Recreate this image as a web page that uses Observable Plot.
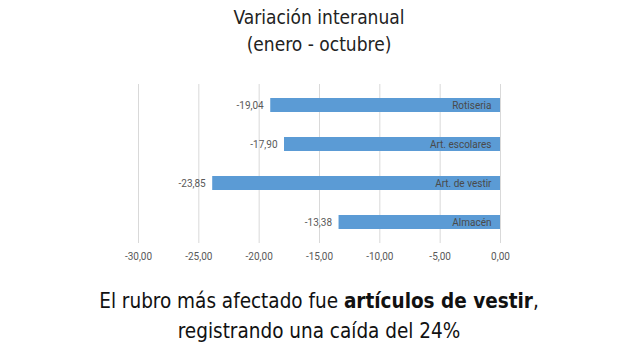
<!DOCTYPE html>
<html><head><meta charset="utf-8">
<script src="https://cdn.jsdelivr.net/npm/d3@7"></script>
<script src="https://cdn.jsdelivr.net/npm/@observablehq/plot@0.6"></script>
<style>
body{margin:0;background:#fff;}
#wrap{position:relative;width:638px;height:357px;overflow:hidden;}
#title{position:absolute;left:0;top:4px;width:638px;text-align:center;font-family:"DejaVu Sans Condensed","DejaVu Sans";font-stretch:condensed;font-size:19px;line-height:27px;color:#222;}
#chart{position:absolute;left:0;top:70px;}
#caption{position:absolute;left:0;top:286px;width:638px;text-align:center;font-family:"DejaVu Sans Condensed","DejaVu Sans";font-stretch:condensed;font-size:20.5px;line-height:30px;color:#111;}
</style></head>
<body><div id="wrap">
<div id="title">Variación interanual<br>(enero - octubre)</div>
<div id="chart"></div>
<div id="caption">El rubro más afectado fue <b>artículos de vestir</b>,<br>registrando una caída del 24%</div>
</div>
<script>
const categories = ["Rotiseria", "Art. escolares", "Art. de vestir", "Almacén"];
const values = [-19.04, -17.90, -23.85, -13.38];
const xTicks = [-30, -25, -20, -15, -10, -5, 0];

const data = categories.map((c, i) => ({cat: c, v: values[i]}));
const fmt = v => d3.format(".2f")(v).replace("−", "-").replace(".", ",");

const plot = Plot.plot({
  width: 638, height: 200,
  marginLeft: 138, marginRight: 138, marginTop: 14, marginBottom: 27,
  style: {fontFamily: "Roboto, 'Liberation Sans', sans-serif", fontSize: "10px", color: "#595959"},
  x: {domain: [-30, 0], ticks: xTicks, tickFormat: fmt, tickSize: 0, tickPadding: 9, label: null},
  y: {domain: categories, paddingInner: 0.65, paddingOuter: 0.325, axis: null},
  marks: [
    Plot.gridX(xTicks, {stroke: "#d9d9d9", strokeOpacity: 1}),
    Plot.axisX({ticks: xTicks, tickFormat: fmt, tickSize: 0, tickPadding: 9, fill: "#595959"}),
    Plot.barX(data, {x1: 0, x2: "v", y: "cat", fill: "#5b9bd5"}),
    Plot.text(data, {x: "v", y: "cat", text: d => fmt(d.v), textAnchor: "end", dx: -7, fill: "#595959"}),
    Plot.text(data, {x: 0, y: "cat", text: "cat", textAnchor: "end", dx: -9, fill: "#4a4a4a"})
  ]
});
document.getElementById("chart").appendChild(plot);
</script>
</body></html>
